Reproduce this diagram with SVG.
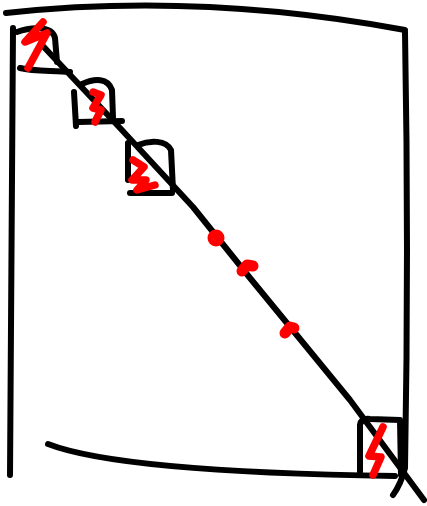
<svg xmlns="http://www.w3.org/2000/svg" width="427" height="506" viewBox="0 0 427 506">
<style>
.k{fill:none;stroke:#000;stroke-width:6;stroke-linecap:round;stroke-linejoin:round}
.r{fill:none;stroke:#f00;stroke-width:7.5;stroke-linecap:round;stroke-linejoin:round}
.d{fill:#f00;stroke:#f00;stroke-width:11;stroke-linecap:round;stroke-linejoin:round}
</style>
<rect width="427" height="506" fill="#fff"/>
<g id="frame">
<path class="k" d="M6,13 Q200,-8 405,30"/>
<path class="k" d="M13,28 Q12,250 10,475"/>
<path class="k" d="M405,32 Q409,250 405,468 Q401,484 393,495"/>
<path class="k" d="M48,444 Q120,472 395,476"/>
</g>
<g id="connectors">
<path class="k" d="M42,45 L120,128 L193,207 L250,278 L350,400 L424,500"/>
</g>
<g id="block1">
<path class="k" d="M17,32 C30,27 52,25 55,38 L57,62"/>
<path class="k" d="M20,68 C35,72 55,70 70,72"/>
<path class="r" d="M43,22 L25,42 L47,33 L28,68"/>
</g>
<g id="block2">
<path class="k" d="M82,84 C95,78 108,78 112,90 L113,118"/>
<path class="k" d="M74,92 L76,126"/>
<path class="k" d="M78,122 L122,121"/>
<path class="r" d="M93,92 L101,95 L93,108 L101,110 L95,122"/>
</g>
<g id="block3">
<path class="k" d="M138,145 C150,140 166,140 171,150 L173,190"/>
<path class="k" d="M128,143 L128,180"/>
<path class="k" d="M130,193 L172,193"/>
<path class="r" d="M133,160 L144,167 L132,180 L146,180 L137,190 L155,185"/>
</g>
<g id="dots">
<circle class="d" cx="216" cy="238" r="3"/>
<path class="d" d="M242,271 L247,265 L253,266"/>
<path class="d" d="M285,333 L290,327 L294,328"/>
</g>
<g id="block4">
<path class="k" d="M360,472 L360,425 Q361,418 370,419 L400,420 L401,475"/>
<path class="r" d="M383,427 L369,456 L381,457 L373,475"/>
</g>
</svg>
